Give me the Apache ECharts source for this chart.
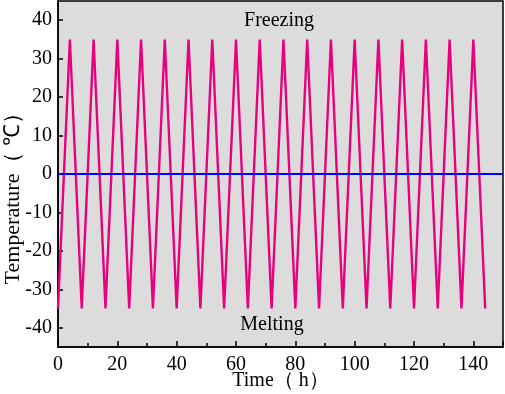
<!DOCTYPE html>
<html><head><meta charset="utf-8">
<script src="https://cdn.jsdelivr.net/npm/echarts@6/dist/echarts.min.js"></script>
<style>html,body{margin:0;padding:0;background:#fff}#c{width:505px;height:394px}</style>
</head><body><div id="c"></div>
<script>
const times = [0,4,8,12,16,20,24,28,32,36,40,44,48,52,56,60,64,68,72,76,80,84,88,92,96,100,104,108,112,116,120,124,128,132,136,140,144];
const temps = [-35,35,-35,35,-35,35,-35,35,-35,35,-35,35,-35,35,-35,35,-35,35,-35,35,-35,35,-35,35,-35,35,-35,35,-35,35,-35,35,-35,35,-35,35,-35];
const zeroLineX = [0,150];
const zeroLineY = [0,0];
const xTicks = [0,20,40,60,80,100,120,140];
const yTicks = [-40,-30,-20,-10,0,10,20,30,40];

const font = '"Liberation Serif","Times New Roman",serif';
const chart = echarts.init(document.getElementById('c'));
chart.setOption({
  animation:false,
  grid:{left:58,right:2,top:1,bottom:47,containLabel:false,outerBoundsMode:'none',show:true,backgroundColor:'#dcdcdc',borderColor:'#000',borderWidth:1.5},
  xAxis:{type:'value',min:0,max:150,interval:20,
    name:'Time（ h）',nameLocation:'middle',nameGap:24,nameMoveOverlap:false,
    nameTextStyle:{fontFamily:font,fontSize:20,color:'#000'},
    axisLine:{onZero:false,lineStyle:{color:'#000',width:1.5}},
    axisTick:{inside:true,length:6,lineStyle:{color:'#000',width:1.5}},
    minorTick:{show:true,splitNumber:2,length:4,lineStyle:{color:'#000',width:1.5}},
    axisLabel:{fontFamily:font,fontSize:20,color:'#000',margin:8,formatter:v=>xTicks.includes(v)?String(v):''},
    splitLine:{show:false}},
  yAxis:{type:'value',min:-45,max:45,
    name:'Temperature（ ℃）\u3000   ',nameLocation:'middle',nameGap:34,nameMoveOverlap:false,
    nameTextStyle:{fontFamily:font,fontSize:22,color:'#000'},
    axisLine:{onZero:false,lineStyle:{color:'#000',width:1.5}},
    axisTick:{show:true,inside:true,length:5,lineStyle:{color:'#000',width:1.5},customValues:yTicks},
    axisLabel:{fontFamily:font,fontSize:20,color:'#000',margin:6,customValues:yTicks},
    splitLine:{show:false}},
  series:[
    {type:'line',data:times.map((t,i)=>[t,temps[i]]),symbol:'none',lineStyle:{color:'#e8007c',width:2.4},z:2},
    {type:'line',data:zeroLineX.map((t,i)=>[t,zeroLineY[i]]),symbol:'none',lineStyle:{color:'#0000ff',width:2},z:3}
  ],
  graphic:[
    {type:'text',x:279,y:21,style:{text:'Freezing',font:'20px '+font,fill:'#000',align:'center',verticalAlign:'middle'}},
    {type:'text',x:272,y:325,style:{text:'Melting',font:'20px '+font,fill:'#000',align:'center',verticalAlign:'middle'}}
  ]
});
</script></body></html>
